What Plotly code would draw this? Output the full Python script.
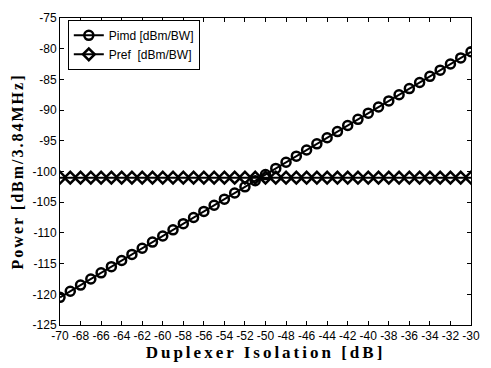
import plotly.graph_objects as go

isolation = list(range(-70, -29))
pimd = [x - 50.5 for x in isolation]
pref = [-101.0 for _ in isolation]

x_ticks = list(range(-70, -29, 2))
y_ticks = list(range(-125, -74, 5))

fig = go.Figure()
fig.add_trace(go.Scatter(
    x=isolation, y=pimd, mode="lines+markers", name="Pimd [dBm/BW]",
    line=dict(color="black", width=2),
    marker=dict(symbol="circle-open", size=9, color="black", line=dict(width=2.5)),
))
fig.add_trace(go.Scatter(
    x=isolation, y=pref, mode="lines+markers", name="Pref  [dBm/BW]",
    line=dict(color="black", width=2),
    marker=dict(symbol="diamond-open", size=9, color="black", line=dict(width=2.5)),
))

tickfont = dict(family="Liberation Sans, Arial", size=12, color="black")
fig.update_layout(
    width=491, height=368,
    margin=dict(l=60, r=11, t=15, b=43),
    paper_bgcolor="white", plot_bgcolor="white",
    showlegend=True,
    legend=dict(
        x=0.019, y=0.994, xanchor="left", yanchor="top",
        bgcolor="white", bordercolor="black", borderwidth=1,
        font=dict(family="Liberation Sans, Arial", size=12, color="black"),
        tracegroupgap=0, itemwidth=30,
    ),
    xaxis=dict(
        range=[-70, -30], tickvals=x_ticks, ticktext=[str(v) for v in x_ticks],
        ticks="inside", ticklen=4, tickcolor="black", showgrid=False, zeroline=False,
        showline=True, linecolor="black", linewidth=1, mirror="ticks",
        tickfont=tickfont, tickangle=0,
        title=dict(text='<span style="letter-spacing:3px">Duplexer Isolation [dB]</span>',
                   font=dict(family="Liberation Serif, Times New Roman", size=17, color="black", weight="bold"),
                   standoff=2),
    ),
    yaxis=dict(
        range=[-125, -75], tickvals=y_ticks, ticktext=[str(v) for v in y_ticks],
        ticks="inside", ticklen=4, tickcolor="black", showgrid=False, zeroline=False,
        showline=True, linecolor="black", linewidth=1, mirror="ticks",
        tickfont=tickfont,
        title=dict(text='<span style="letter-spacing:2px">Power [dBm/3.84MHz]</span>',
                   font=dict(family="Liberation Serif, Times New Roman", size=16, color="black", weight="bold"),
                   standoff=4),
    ),
)

fig.write_html("out.html")
